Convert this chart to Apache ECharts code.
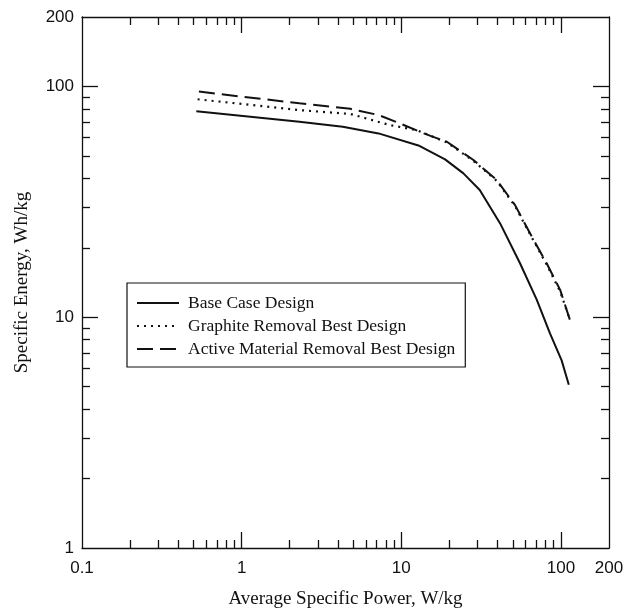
<!DOCTYPE html>
<html>
<head>
<meta charset="utf-8">
<script src="https://cdn.jsdelivr.net/npm/echarts@6/dist/echarts.min.js"></script>
<style>
html,body{margin:0;padding:0;background:#fff;}
#chart{width:627px;height:614px;}
</style>
</head>
<body>
<div id="chart"></div>
<script>
// ---- data ----
const seriesNames = ['Base Case Design', 'Graphite Removal Best Design', 'Active Material Removal Best Design'];
const baseCase = [[0.52,78],[2.3,70.3],[4.3,66.9],[7.2,62.6],[12.8,55.5],[18.8,48.3],[24.5,42],[31,35.6],[41.6,25.5],[55.5,17.1],[70.6,11.9],[85.5,8.5],[101,6.5],[112,5.1]];
const graphiteRemoval = [[0.53,88],[2.3,79],[4.8,76],[8.5,68],[12.5,64.7],[19.3,57.2],[28.3,47.6],[39.6,39],[51.6,30.3],[64,22.9],[81.5,16.9],[99,12.9],[113,9.9]];
const activeRemoval = [[0.54,95],[2.3,84.5],[4.8,80],[7.2,75.2],[9.8,69.2],[13.8,62.6],[19.3,57.6],[28.3,48],[39.6,39.3],[51.6,30.6],[64,23.1],[81.5,17.1],[99,13.1],[114,9.7]];

const xLabels = [0.1, 1, 10, 100, 200];
const xMajorTicks = [1, 10, 100];
const xMinorTicks = [0.2,0.3,0.4,0.5,0.6,0.7,0.8,0.9,2,3,4,5,6,7,8,9,20,30,40,50,60,70,80,90];
const yLabels = [1, 10, 100, 200];
const yMajorTicks = [10, 100];
const yMinorTicks = [2,3,4,5,6,7,8,9,20,30,40,50,60,70,80,90];

const xTitle = 'Average Specific Power, W/kg';
const yTitle = 'Specific Energy, Wh/kg';

// ---- chart ----
const ink = '#111';
const fmt = v => String(+(+v).toPrecision(3));
const sansLabel = {fontFamily:'Liberation Sans, Arial, sans-serif', fontSize:17, color:ink};

function xAx(pos, ticks, len, withLine, withLabels) {
  const a = {
    type:'log', logBase:10, min:0.1, max:200, position:pos, gridIndex:0,
    axisLine:{show:withLine, lineStyle:{color:ink, width:1.3}},
    axisTick:{show:true, inside:true, length:len, customValues:ticks, lineStyle:{color:ink, width:1.3}},
    axisLabel:withLabels ? Object.assign({show:true, margin:12, customValues:xLabels, formatter:fmt}, sansLabel) : {show:false},
    splitLine:{show:false}, minorTick:{show:false}, minorSplitLine:{show:false},
    axisPointer:{show:false}
  };
  if (withLabels) {
    a.name = xTitle; a.nameLocation = 'middle'; a.nameGap = 42;
    a.nameTextStyle = {fontFamily:'Liberation Serif, Times New Roman, serif', fontSize:19, color:ink};
  }
  return a;
}
function yAx(pos, ticks, len, withLine, withLabels) {
  const a = {
    type:'log', logBase:10, min:1, max:200, position:pos, gridIndex:0,
    axisLine:{show:withLine, lineStyle:{color:ink, width:1.3}},
    axisTick:{show:true, inside:true, length:len, customValues:ticks, lineStyle:{color:ink, width:1.3}},
    axisLabel:withLabels ? Object.assign({show:true, margin:8, customValues:yLabels, formatter:fmt}, sansLabel) : {show:false},
    splitLine:{show:false}, minorTick:{show:false}, minorSplitLine:{show:false},
    axisPointer:{show:false}
  };
  if (withLabels) {
    a.name = yTitle; a.nameLocation = 'middle'; a.nameGap = 50; a.nameRotate = 90;
    a.nameTextStyle = {fontFamily:'Liberation Serif, Times New Roman, serif', fontSize:19, color:ink};
  }
  return a;
}

const chart = echarts.init(document.getElementById('chart'), null, {renderer:'canvas'});
chart.setOption({
  animation:false,
  backgroundColor:'#fff',
  grid:{left:82, right:18, top:17, bottom:66},
  xAxis:[
    xAx('bottom', xMajorTicks, 16, true, true),
    xAx('bottom', xMinorTicks, 8, false, false),
    xAx('top', xMajorTicks, 16, true, false),
    xAx('top', xMinorTicks, 8, false, false)
  ],
  yAxis:[
    yAx('left', yMajorTicks, 16, true, true),
    yAx('left', yMinorTicks, 8, false, false),
    yAx('right', yMajorTicks, 16, true, false),
    yAx('right', yMinorTicks, 8, false, false)
  ],
  legend:{
    show:true, orient:'vertical', left:127, top:283,
    backgroundColor:'#fff', borderColor:ink, borderWidth:1.2,
    padding:[11, 10, 9, 9], itemGap:5, itemWidth:42, itemHeight:14,
    itemStyle:{color:'rgba(0,0,0,0)', borderColor:'rgba(0,0,0,0)', borderWidth:0, opacity:0},
    textStyle:{fontFamily:'Liberation Serif, Times New Roman, serif', fontSize:17.5, color:ink, lineHeight:17, padding:[0,0,0,4]},
    data:seriesNames,
    selectedMode:false
  },
  series:[
    {name:seriesNames[0], type:'line', data:baseCase, symbol:'none', smooth:false,
     lineStyle:{color:ink, width:2, type:'solid'}, itemStyle:{color:ink}},
    {name:seriesNames[1], type:'line', data:graphiteRemoval, symbol:'none', smooth:false,
     lineStyle:{color:ink, width:2.2, type:[2,5]}, itemStyle:{color:ink}},
    {name:seriesNames[2], type:'line', data:activeRemoval, symbol:'none', smooth:false,
     lineStyle:{color:ink, width:2, type:[16,7]}, itemStyle:{color:ink}}
  ]
});
</script>
</body>
</html>
